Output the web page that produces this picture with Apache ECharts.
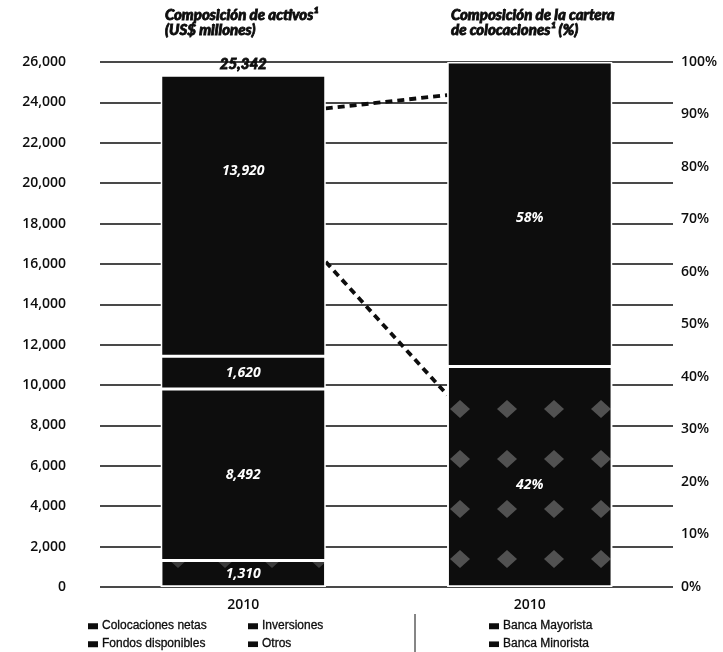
<!DOCTYPE html>
<html>
<head>
<meta charset="utf-8">
<script src="https://cdn.jsdelivr.net/npm/echarts@6/dist/echarts.min.js"></script>
<style>
  html, body { margin: 0; padding: 0; background: #fff; }
  #chart { width: 723px; height: 652px; }
</style>
</head>
<body>
<div id="chart"></div>
<script>
// Category labels (left bar: asset mix, right bar: loan-portfolio mix)
const periods = ['2010', '2010'];

// Asset composition, US$ millions (bottom to top of the stack)
const otrosValues = [1310, '-'];
const fondosValues = [8492, '-'];
const inversionesValues = [1620, '-'];
const colocacionesValues = [13920, '-'];

// Loan portfolio composition, % (bottom to top)
const minoristaPct = ['-', 42];
const mayoristaPct = ['-', 58];

// Axis ranges
const usdMin = 0, usdMax = 26000, usdStep = 2000;
const pctMin = 0, pctMax = 100, pctStep = 10;

// Dashed connectors: from the loans block (US$ millions) to the portfolio bar (%)
const connectorFromUsd = [23700, 16100];
const connectorToPct = [93.7, 36.6];

const BAR_WIDTH = 165;
const INK = '#0d0d0d';
const FONT = "'Open Sans', 'DejaVu Sans', sans-serif";
const HEAVY = "'Lato', 'Open Sans', sans-serif";
const LEGEND_FONT = "'Liberation Sans', 'Open Sans', sans-serif";

const fmt = v => Number(v).toLocaleString('en-US');
const totalAssets = [otrosValues, fondosValues, inversionesValues, colocacionesValues]
  .reduce((s, arr) => s + Number(arr[0]), 0);

// Grey speckled texture used on the retail-banking block
const speckle = {
  symbol: 'diamond',
  symbolSize: 1,
  color: 'rgba(150,150,150,0.5)',
  dashArrayX: [0, 27, 20, 0],
  dashArrayY: [18, 32]
};

const innerLabel = (formatter, offset) => ({
  show: true,
  position: 'inside',
  offset: offset || [0, 0],
  color: '#fff',
  fontFamily: FONT,
  fontSize: 14,
  fontWeight: 'bold',
  fontStyle: 'italic',
  formatter
});

const barBase = {
  type: 'bar',
  barWidth: BAR_WIDTH,
  barGap: '-100%',
  itemStyle: { color: INK, borderColor: '#fff', borderWidth: 1.5 },
  emphasis: { disabled: true }
};

const connectorData = connectorFromUsd.map((v, i) => [
  0, v, 1, connectorToPct[i] / pctMax * usdMax
]);

// One legend block per entry so the two-row, three-column key lines up
const legendEntry = (name, left, top) => ({
  data: [name],
  left, top,
  padding: 0,
  itemWidth: 12, itemHeight: 8, icon: 'rect',
  selectedMode: false,
  textStyle: {
    fontFamily: LEGEND_FONT, fontSize: 12, color: INK, padding: [0, 0, 0, -2],
    textBorderColor: INK, textBorderWidth: 0.3
  }
});

// Heavy italic headings
const titleStyle = {
  fontFamily: HEAVY, fontSize: 15, fontWeight: 900, fontStyle: 'italic',
  color: INK, lineHeight: 15, textBorderColor: INK, textBorderWidth: 0.8
};

const chart = echarts.init(document.getElementById('chart'), null, { renderer: 'canvas' });

chart.setOption({
  animation: false,
  backgroundColor: '#fff',
  title: [
    { text: 'Composición de activos¹\n(US$ millones)', left: 165, top: 8, padding: 0, textStyle: titleStyle },
    { text: 'Composición de la cartera\nde colocaciones¹ (%)', left: 451, top: 8, padding: 0, textStyle: titleStyle }
  ],
  grid: { left: 100, right: 50, top: 62, bottom: 65, containLabel: false },
  legend: [
    legendEntry('Colocaciones netas', 86, 620),
    legendEntry('Fondos disponibles', 86, 638),
    legendEntry('Inversiones', 246, 620),
    legendEntry('Otros', 246, 638),
    legendEntry('Banca Mayorista', 487, 620),
    legendEntry('Banca Minorista', 487, 638)
  ],
  graphic: [
    {
      type: 'line',
      shape: { x1: 415, y1: 614, x2: 415, y2: 652 },
      style: { stroke: INK, lineWidth: 1 }
    }
  ],
  xAxis: {
    type: 'category',
    data: periods,
    axisLine: { show: false },
    axisTick: { show: false },
    axisLabel: { margin: 11, fontFamily: FONT, fontSize: 14, fontWeight: 600, color: INK }
  },
  yAxis: [
    {
      type: 'value', position: 'left',
      min: usdMin, max: usdMax, interval: usdStep,
      axisLine: { show: false }, axisTick: { show: false },
      axisLabel: { margin: 34, fontFamily: FONT, fontSize: 14, fontWeight: 600, color: INK, formatter: v => fmt(v) },
      splitLine: { show: true, lineStyle: { color: INK, width: 1.7 } }
    },
    {
      type: 'value', position: 'right',
      min: pctMin, max: pctMax, interval: pctStep,
      axisLine: { show: false }, axisTick: { show: false },
      axisLabel: { margin: 8, fontFamily: FONT, fontSize: 14, fontWeight: 600, color: INK, formatter: '{value}%' },
      splitLine: { show: false }
    }
  ],
  series: [
    Object.assign({}, barBase, {
      name: 'Otros', stack: 'activos', data: otrosValues,
      itemStyle: Object.assign({}, barBase.itemStyle, {
        decal: Object.assign({}, speckle, { color: 'rgba(150,150,150,0.35)' })
      }),
      label: innerLabel(p => fmt(p.value))
    }),
    Object.assign({}, barBase, {
      name: 'Fondos disponibles', stack: 'activos', data: fondosValues,
      label: innerLabel(p => fmt(p.value))
    }),
    Object.assign({}, barBase, {
      name: 'Inversiones', stack: 'activos', data: inversionesValues,
      label: innerLabel(p => fmt(p.value))
    }),
    Object.assign({}, barBase, {
      name: 'Colocaciones netas', stack: 'activos', data: colocacionesValues,
      label: innerLabel(p => fmt(p.value), [0, -45])
    }),
    {
      type: 'bar', name: 'total', stack: 'activos',
      barWidth: BAR_WIDTH, barGap: '-100%', silent: true,
      data: [0, '-'],
      itemStyle: { color: 'transparent', borderWidth: 0 },
      label: {
        show: true, position: 'top', distance: 4,
        fontFamily: HEAVY, fontSize: 15, fontWeight: 900, fontStyle: 'italic', color: INK,
        textBorderColor: INK, textBorderWidth: 0.8,
        formatter: () => fmt(totalAssets)
      }
    },
    Object.assign({}, barBase, {
      name: 'Banca Minorista', stack: 'cartera', yAxisIndex: 1, data: minoristaPct,
      itemStyle: Object.assign({}, barBase.itemStyle, { decal: speckle }),
      label: innerLabel(p => p.value + '%', [0, 8])
    }),
    Object.assign({}, barBase, {
      name: 'Banca Mayorista', stack: 'cartera', yAxisIndex: 1, data: mayoristaPct,
      label: innerLabel(p => p.value + '%', [0, 4])
    }),
    {
      type: 'custom', name: 'connectors', silent: true,
      xAxisIndex: 0, yAxisIndex: 0,
      encode: { x: [0, 2], y: [1, 3] },
      data: connectorData,
      renderItem(params, api) {
        const a = api.coord([api.value(0), api.value(1)]);
        const b = api.coord([api.value(2), api.value(3)]);
        const half = BAR_WIDTH / 2;
        return {
          type: 'line',
          shape: { x1: a[0] + half, y1: a[1], x2: b[0] - half, y2: b[1] },
          style: { stroke: INK, lineWidth: 3.8, lineDash: [7, 5], fill: null }
        };
      }
    }
  ]
});
</script>
</body>
</html>
